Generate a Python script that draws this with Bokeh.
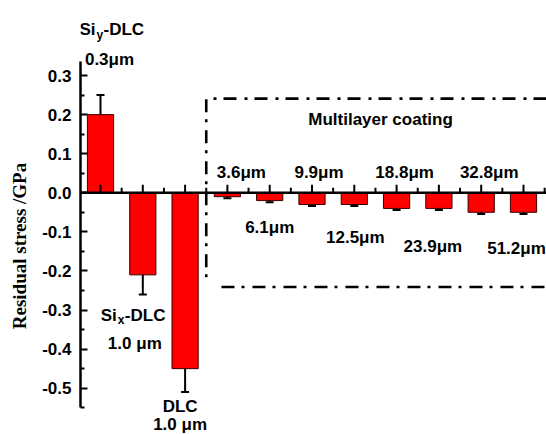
from bokeh.plotting import figure
from bokeh.models import (ColumnDataSource, FixedTicker, PrintfTickFormatter,
                          Whisker, TeeHead, Span)
from bokeh.core.properties import value
from bokeh.embed import file_html
from bokeh.resources import INLINE

# ---------------- data ----------------
positions = [1, 2, 3, 4, 5, 6, 7, 8, 9, 10, 11]
stress = [0.20, -0.21, -0.45, -0.01, -0.02, -0.03, -0.03, -0.04, -0.04, -0.05, -0.05]
stress_err = [0.05, 0.05, 0.06, 0.004, 0.004, 0.004, 0.004, 0.004, 0.004, 0.004, 0.004]
multilayer_labels = ["3.6\u03bcm", "6.1\u03bcm", "9.9\u03bcm", "12.5\u03bcm",
                     "18.8\u03bcm", "23.9\u03bcm", "32.8\u03bcm", "51.2\u03bcm"]
y_ticks = [0.3, 0.2, 0.1, 0.0, -0.1, -0.2, -0.3, -0.4, -0.5]
y_minor = [0.25, 0.15, 0.05, -0.05, -0.15, -0.25, -0.35, -0.45, -0.55]
y_title = "Residual stress /GPa"

# ---------------- layout helpers ----------------
X_RANGE = (0.527, 11.544)
Y_RANGE = (-0.6185, 0.492)
FRAME_H = 434
px_y = (Y_RANGE[1] - Y_RANGE[0]) / FRAME_H   # data units per pixel (y)

FONT = value("Liberation Sans")
FS = "17px"
SUB = "12px"

p = figure(width=546, height=434, x_range=X_RANGE, y_range=Y_RANGE,
           output_backend="svg", toolbar_location=None, x_axis_location=None,
           min_border_left=80, min_border_right=0, min_border_top=0,
           min_border_bottom=0)
p.grid.visible = False
p.outline_line_color = None
p.background_fill_color = "white"

# y axis
ax = p.yaxis[0]
ax.ticker = FixedTicker(ticks=y_ticks, minor_ticks=y_minor)
ax.formatter = PrintfTickFormatter(format="%.1f")
ax.bounds = (-0.55, 0.336)
ax.axis_line_width = 2.5
ax.axis_line_color = "black"
ax.major_tick_in = 7
ax.major_tick_out = 0
ax.minor_tick_in = 4
ax.minor_tick_out = 0
ax.major_tick_line_width = 2
ax.minor_tick_line_width = 2
ax.major_label_standoff = 9
ax.major_label_text_font = "Liberation Sans"
ax.major_label_text_font_style = "bold"
ax.major_label_text_font_size = "17px"
ax.major_label_text_color = "black"
# trailing no-break spaces shift the visible title down to where the reference has it
ax.axis_label = y_title + "\u00a0" * 12
ax.axis_label_text_font = "Liberation Serif"
ax.axis_label_text_font_style = "bold"
ax.axis_label_text_font_size = "19px"
ax.axis_label_text_color = "black"
ax.axis_label_standoff = 9

# bars
src = ColumnDataSource(dict(
    x=positions, top=stress,
    upper=[s + e for s, e in zip(stress, stress_err)],
    lower=[s - e for s, e in zip(stress, stress_err)],
))
p.vbar(x="x", top="top", bottom=0, width=0.62, source=src,
       fill_color="#FF0000", line_color="#3a0000", line_width=1)

# error bars
p.add_layout(Whisker(base="x", upper="upper", lower="lower", source=src,
                     line_color="black", line_width=2,
                     upper_head=TeeHead(size=8, line_width=2, line_color="black"),
                     lower_head=TeeHead(size=8, line_width=2, line_color="black")))

# zero axis line with ticks
p.add_layout(Span(location=0, dimension="width", line_color="black", line_width=2.5))
minor_x = [x + 0.5 for x in positions]
p.segment(x0=positions, y0=[0] * len(positions), x1=positions,
          y1=[8 * px_y] * len(positions), line_color="black", line_width=2)
p.segment(x0=minor_x, y0=[0] * len(minor_x), x1=minor_x,
          y1=[5 * px_y] * len(minor_x), line_color="black", line_width=2)

# dash-dot box around multilayer
DASH = "13 7 3 8"
p.line(x=[X_RANGE[1], 3.5, 3.5], y=[0.241, 0.241, -0.216],
       line_color="black", line_width=2.6, line_dash=DASH)
p.line(x=[3.86, X_RANGE[1]], y=[-0.241, -0.241],
       line_color="black", line_width=2.6, line_dash=DASH)

def txt(x, y, t, size=FS, align="center", xo=0, yo=0):
    p.text(x=[x], y=[y], text=[t], text_font=FONT, text_font_style="bold",
           text_font_size=size, text_align=align, text_baseline="alphabetic",
           text_color="black", x_offset=xo, y_offset=yo)

# Si_y-DLC label
txt(1, 0.417, "Si", align="right", xo=-5)
txt(1, 0.417, "y", size=SUB, align="left", xo=-4, yo=5)
txt(1, 0.417, "-DLC", align="left", xo=3)
txt(1, 0.342, "0.3\u03bcm", xo=9)

# Si_x-DLC label
txt(2, -0.314, "Si", align="right", xo=-26)
txt(2, -0.314, "x", size=SUB, align="left", xo=-25, yo=5)
txt(2, -0.314, "-DLC", align="left", xo=-18)
txt(2, -0.3856, "1.0 \u03bcm", xo=-8)

# DLC label
txt(3, -0.547, "DLC", xo=-5)
txt(3, -0.593, "1.0 \u03bcm", xo=-5)

# multilayer
txt(7.62, 0.1876, "Multilayer coating")
ml_y = [0.052, -0.0888, 0.052, -0.1144, 0.052, -0.1374, 0.052, -0.1425]
ml_xo = [14, 0, 7, 1, 8, -6, 8, -7]
for i, lab in enumerate(multilayer_labels):
    txt(positions[3 + i], ml_y[i], lab, xo=ml_xo[i])

open("out.html", "w").write(file_html(p, INLINE))
